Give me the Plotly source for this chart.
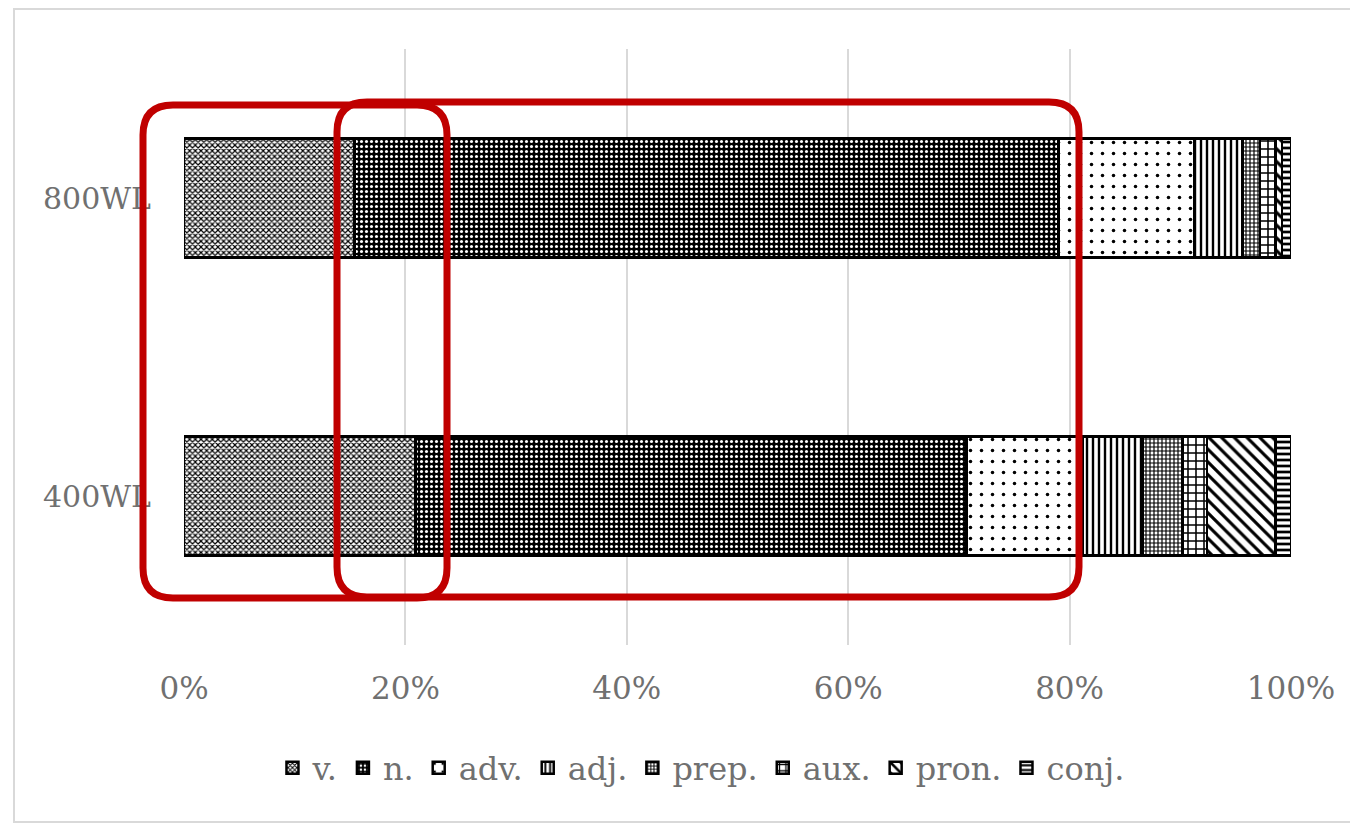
import plotly.graph_objects as go

categories = ["400WL", "800WL"]
series_names = ["v.", "n.", "adv.", "adj.", "prep.", "aux.", "pron.", "conj."]
values_400 = [20.9, 49.8, 10.5, 5.4, 3.6, 2.2, 6.2, 1.4]
values_800 = [15.4, 63.6, 12.3, 4.3, 1.6, 1.4, 0.6, 0.8]
x_ticks = [0, 0.2, 0.4, 0.6, 0.8, 1.0]

patterns = {
    "v.": dict(shape="x", fgcolor="#000000", bgcolor="#ffffff", size=4, solidity=0.5),
    "n.": dict(shape=".", fgcolor="#ffffff", bgcolor="#000000", size=5, solidity=0.3),
    "adv.": dict(shape=".", fgcolor="#000000", bgcolor="#ffffff", size=11, solidity=0.08),
    "adj.": dict(shape="|", fgcolor="#000000", bgcolor="#ffffff", size=6, solidity=0.4),
    "prep.": dict(shape="+", fgcolor="#000000", bgcolor="#ffffff", size=4, solidity=0.5),
    "aux.": dict(shape="+", fgcolor="#000000", bgcolor="#ffffff", size=8, solidity=0.35),
    "pron.": dict(shape="\\", fgcolor="#000000", bgcolor="#ffffff", size=9, solidity=0.35),
    "conj.": dict(shape="-", fgcolor="#000000", bgcolor="#ffffff", size=6, solidity=0.45),
}

fig = go.Figure()
for i, name in enumerate(series_names):
    vals = [values_400[i] / sum(values_400), values_800[i] / sum(values_800)]
    fig.add_trace(go.Bar(
        y=categories, x=vals, name=name, orientation="h",
        marker=dict(color="#ffffff", line=dict(color="#000000", width=2.5),
                    pattern=dict(fillmode="replace", **patterns[name])),
    ))

font_family = "DejaVu Serif"
text_color = "#707070"

OFF = 8  # page body margin
W, H = 1358 - OFF, 824 - OFF
L, R, T, B = 184 - OFF, 67, 49 - OFF, 179
pw, ph = W - L - R, H - T - B

def px_to_paper(X, Y):
    # page pixel coords -> paper coords
    return (X - OFF - L) / pw, (H - B - (Y - OFF)) / ph

def rounded_rect(x0, y0, x1, y1, r):
    rx, ry = r / pw, r / ph
    a0, b0 = px_to_paper(x0, y1)
    a1, b1 = px_to_paper(x1, y0)
    return (f"M {a0+rx},{b0} L {a1-rx},{b0} Q {a1},{b0} {a1},{b0+ry} "
            f"L {a1},{b1-ry} Q {a1},{b1} {a1-rx},{b1} "
            f"L {a0+rx},{b1} Q {a0},{b1} {a0},{b1-ry} "
            f"L {a0},{b0+ry} Q {a0},{b0} {a0+rx},{b0} Z")

shapes = [
    dict(type="rect", xref="paper", yref="paper",
         x0=px_to_paper(14, 0)[0], x1=px_to_paper(1351, 0)[0],
         y0=px_to_paper(0, 822)[1], y1=px_to_paper(0, 9)[1],
         line=dict(color="#d9d9d9", width=2), fillcolor="rgba(0,0,0,0)", layer="below"),
    dict(type="path", xref="paper", yref="paper",
         path=rounded_rect(143, 105, 447, 598, 30),
         line=dict(color="#c00000", width=7)),
    dict(type="path", xref="paper", yref="paper",
         path=rounded_rect(337, 102, 1079, 597, 30),
         line=dict(color="#c00000", width=7)),
]

fig.update_layout(
    barmode="stack",
    bargap=0.6,
    width=W, height=H,
    margin=dict(l=L, r=R, t=T, b=B, autoexpand=False),
    paper_bgcolor="#ffffff",
    plot_bgcolor="#ffffff",
    font=dict(family=font_family, color=text_color, size=30),
    xaxis=dict(range=[0, 1], tickvals=x_ticks, tickformat=".0%",
               showgrid=True, gridcolor="#d9d9d9", gridwidth=2,
               zeroline=False, showline=False, ticks="",
               tickfont=dict(size=31, color=text_color), ticklabelstandoff=22),
    yaxis=dict(categoryorder="array", categoryarray=categories,
               range=[-0.5, 1.5], showgrid=False, zeroline=False, showline=False,
               ticks="", tickfont=dict(size=30, color=text_color), ticklabelstandoff=32),
    legend=dict(orientation="h", x=0.467, xanchor="center", y=-0.16, yanchor="top",
                font=dict(size=32, color=text_color), traceorder="normal",
                itemwidth=30),
    shapes=shapes,
)

fig.write_html("out.html")
